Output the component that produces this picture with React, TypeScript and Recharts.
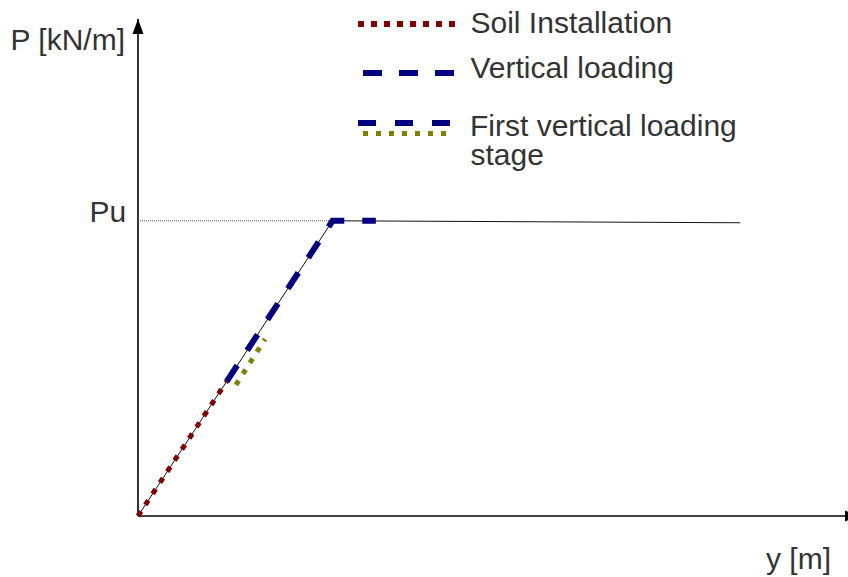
import React from 'react';
import { LineChart, Line, XAxis, YAxis, ReferenceLine, ReferenceDot } from 'recharts';

// Displacement y (axis units 0-100) and load P (axis units 0-100)
const curveY = [0, 27.4, 84.8];
const curveP = [0, 59.4, 59.0];

const soilY = [0, 12.5];
const soilP = [0, 27.1];

const verticalY = [12.5, 27.4, 33.5];
const verticalP = [27.1, 59.4, 59.4];

const firstStageY = [13.8, 17.9];
const firstStageP = [26.4, 35.6];

const puY = [0, 27.4];
const puP = [59.4, 59.4];

const legendNames = ['Soil Installation', 'Vertical loading', 'First vertical loading', 'stage'];
const axisTitles = ['P [kN/m]', 'Pu', 'y [m]'];

const toPoints = (xs: number[], ps: number[]) => xs.map((x, i) => ({ x, p: ps[i] }));

const W = 848;
const H = 577;
const FONT = '"Liberation Sans", Arial, sans-serif';
const TEXT = '#333333';
const RED = '#800000';
const BLUE = '#000080';
const OLIVE = '#808000';

const ArrowUp = (props: any) => {
    const { cx, cy } = props;
    return <path d={`M${cx},${cy} L${cx - 5.5},${cy + 15} L${cx + 5.5},${cy + 15} Z`} fill="#000" />;
};

const ArrowRight = (props: any) => {
    const { cx, cy } = props;
    return <path d={`M${cx + 11},${cy} L${cx - 3},${cy - 5.5} L${cx - 3},${cy + 5.5} Z`} fill="#000" />;
};

export default function App() {
    return (
        <div style={{ position: 'fixed', top: 0, left: 0, width: W, height: H, background: '#fff' }}>
            <LineChart width={W} height={H} margin={{ top: 19, right: 0, bottom: 61, left: 138 }}>
                <XAxis type="number" dataKey="x" domain={[0, 100]} hide />
                <YAxis type="number" dataKey="p" domain={[0, 100]} hide />

                <ReferenceLine x={0} stroke="#000" strokeWidth={1.6} />
                <ReferenceLine y={0} stroke="#000" strokeWidth={1.6} />
                <ReferenceDot x={0} y={100} r={0} shape={ArrowUp} />
                <ReferenceDot x={100} y={0} r={0} shape={ArrowRight} />

                <Line data={toPoints(curveY, curveP)} dataKey="p" type="linear" stroke="#111" strokeWidth={1}
                    dot={false} activeDot={false} isAnimationActive={false} />
                <Line data={toPoints(puY, puP)} dataKey="p" type="linear" stroke="#555" strokeWidth={1}
                    strokeDasharray="1 1" dot={false} activeDot={false} isAnimationActive={false} />
                <Line data={toPoints(soilY, soilP)} dataKey="p" type="linear" stroke={RED} strokeWidth={5}
                    strokeDasharray="5.5 7.8" dot={false} activeDot={false} isAnimationActive={false} />
                <Line data={toPoints(verticalY, verticalP)} dataKey="p" type="linear" stroke={BLUE} strokeWidth={6}
                    strokeDasharray="19 18" dot={false} activeDot={false} isAnimationActive={false} />
                <Line data={toPoints(firstStageY, firstStageP)} dataKey="p" type="linear" stroke={OLIVE} strokeWidth={5}
                    strokeDasharray="5 8" dot={false} activeDot={false} isAnimationActive={false} />
            </LineChart>

            {/* legend and axis titles */}
            <svg width={W} height={H} style={{ position: 'absolute', top: 0, left: 0, pointerEvents: 'none' }}>
                <line x1={358} y1={24} x2={456} y2={24} stroke={RED} strokeWidth={6} strokeDasharray="6 7" />
                <line x1={363} y1={73} x2={455} y2={73} stroke={BLUE} strokeWidth={6} strokeDasharray="19 17" />
                <line x1={358} y1={123} x2={453} y2={123} stroke={BLUE} strokeWidth={6} strokeDasharray="18 19" />
                <line x1={363} y1={133.5} x2={449} y2={133.5} stroke={OLIVE} strokeWidth={5} strokeDasharray="5 8" />
                <g fontFamily={FONT} fontSize={30} fill={TEXT}>
                    <text x={470.5} y={32.5}>{legendNames[0]}</text>
                    <text x={470.5} y={77.5}>{legendNames[1]}</text>
                    <text x={470} y={135.5}>{legendNames[2]}</text>
                    <text x={470.5} y={165}>{legendNames[3]}</text>
                    <text x={10.5} y={50}>{axisTitles[0]}</text>
                    <text x={89.5} y={222}>{axisTitles[1]}</text>
                    <text x={766} y={569}>{axisTitles[2]}</text>
                </g>
            </svg>
        </div>
    );
}
